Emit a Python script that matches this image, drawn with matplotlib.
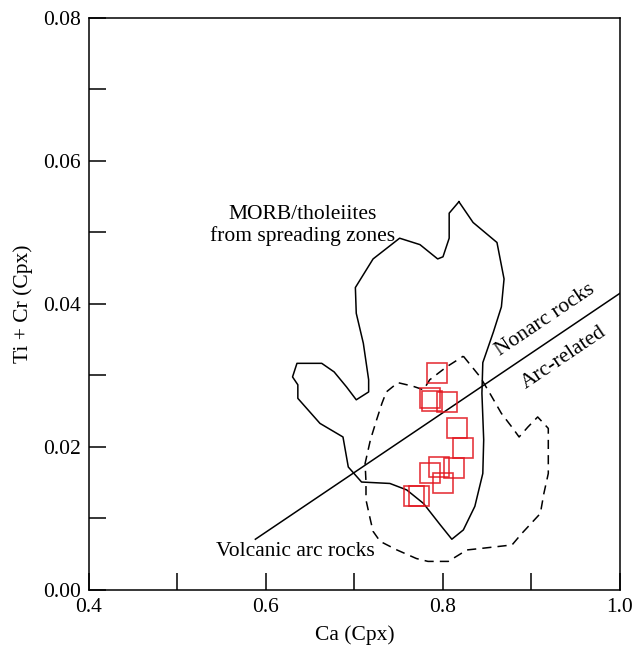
"""
Ti + Cr vs Ca (Cpx) discrimination diagram with clinopyroxene analyses.
"""

import matplotlib
matplotlib.use("Agg")
import matplotlib.pyplot as plt

# -------------------------------------------------------------------------
# Data
# -------------------------------------------------------------------------
# MORB / tholeiites field (solid outline)
morb_ca = [0.818, 0.834, 0.861, 0.869, 0.866, 0.857, 0.845, 0.844, 0.846, 0.845,
           0.836, 0.823, 0.810, 0.797, 0.778, 0.759, 0.740, 0.708, 0.693, 0.687,
           0.661, 0.636, 0.636, 0.630, 0.635, 0.663, 0.677, 0.691, 0.702, 0.716,
           0.716, 0.710, 0.702, 0.701, 0.721, 0.751, 0.774, 0.794, 0.800, 0.807,
           0.807, 0.818]
morb_ticr = [0.0543, 0.0514, 0.0486, 0.0435, 0.0396, 0.0361, 0.0318, 0.0275, 0.0210, 0.0163,
             0.0117, 0.0084, 0.0071, 0.0091, 0.0121, 0.0140, 0.0149, 0.0151, 0.0172, 0.0214,
             0.0233, 0.0268, 0.0287, 0.0298, 0.0317, 0.0317, 0.0305, 0.0284, 0.0266, 0.0277,
             0.0294, 0.0345, 0.0387, 0.0423, 0.0463, 0.0492, 0.0483, 0.0463, 0.0466, 0.0492,
             0.0527, 0.0543]

# Volcanic arc field (dashed outline)
arc_ca = [0.823, 0.842, 0.853, 0.866, 0.879, 0.886, 0.896, 0.907, 0.919, 0.919,
          0.914, 0.910, 0.889, 0.878, 0.842, 0.827, 0.806, 0.783, 0.770, 0.748,
          0.729, 0.721, 0.718, 0.713, 0.713, 0.712, 0.718, 0.725, 0.731, 0.736,
          0.749, 0.766, 0.778, 0.785, 0.804, 0.823]
arc_ticr = [0.0327, 0.0298, 0.0275, 0.0247, 0.0226, 0.0214, 0.0228, 0.0242, 0.0226, 0.0163,
            0.0135, 0.0107, 0.0079, 0.0063, 0.0058, 0.0056, 0.0040, 0.0040, 0.0044, 0.0056,
            0.0068, 0.0082, 0.0098, 0.0126, 0.0151, 0.0177, 0.0210, 0.0238, 0.0261, 0.0277,
            0.0290, 0.0285, 0.0280, 0.0294, 0.0312, 0.0327]

# Nonarc / arc-related dividing line
divide_ca = [0.588, 1.0]
divide_ticr = [0.0071, 0.0415]

# Clinopyroxene analyses
sample_ca = [0.793, 0.785, 0.788, 0.805, 0.816, 0.823, 0.796, 0.812, 0.785, 0.800,
             0.767, 0.773]
sample_ticr = [0.0304, 0.0268, 0.0264, 0.0263, 0.0226, 0.0199, 0.0172, 0.0170, 0.0163, 0.0150,
               0.0131, 0.0131]

x_ticks = [0.4, 0.5, 0.6, 0.7, 0.8, 0.9, 1.0]
x_labels = ["0.4", "", "0.6", "", "0.8", "", "1.0"]
y_ticks = [0.00, 0.01, 0.02, 0.03, 0.04, 0.05, 0.06, 0.07, 0.08]
y_labels = ["0.00", "", "0.02", "", "0.04", "", "0.06", "", "0.08"]

# -------------------------------------------------------------------------
# Plot
# -------------------------------------------------------------------------
plt.rcParams["font.family"] = ["Liberation Serif", "DejaVu Serif"]
plt.rcParams["font.size"] = 15.5

fig = plt.figure(figsize=(6.43, 6.51), dpi=100)
ax = fig.add_axes([0.1384, 0.0937, 0.8258, 0.8787])

ax.plot(morb_ca, morb_ticr, color="black", lw=1.1)
ax.plot(arc_ca, arc_ticr, color="black", lw=1.1, dashes=(6, 4))
ax.plot(divide_ca, divide_ticr, color="black", lw=1.1)

ax.plot(sample_ca, sample_ticr, ls="none", marker="s", ms=14, mfc="none",
        mec="#e2141c", mew=1.2, alpha=0.85)

ax.text(0.641, 0.0510, "MORB/tholeiites\nfrom spreading zones", ha="center", va="center",
        linespacing=1.15)
ax.text(0.916, 0.0378, "Nonarc rocks", ha="center", va="center", rotation=34,
        rotation_mode="anchor")
ax.text(0.937, 0.0325, "Arc-related", ha="center", va="center", rotation=34,
        rotation_mode="anchor")
ax.text(0.633, 0.0054, "Volcanic arc rocks", ha="center", va="center")

ax.set_xlim(0.4, 1.0)
ax.set_ylim(0.0, 0.08)
ax.set_xticks(x_ticks)
ax.set_xticklabels(x_labels)
ax.set_yticks(y_ticks)
ax.set_yticklabels(y_labels)
ax.tick_params(direction="in", length=12, width=1.1, pad=6)
for spine in ax.spines.values():
    spine.set_linewidth(1.1)

ax.set_xlabel("Ca (Cpx)", labelpad=6)
ax.set_ylabel("Ti + Cr (Cpx)", labelpad=7)

fig.savefig("out.png", dpi=100)
plt.close(fig)
